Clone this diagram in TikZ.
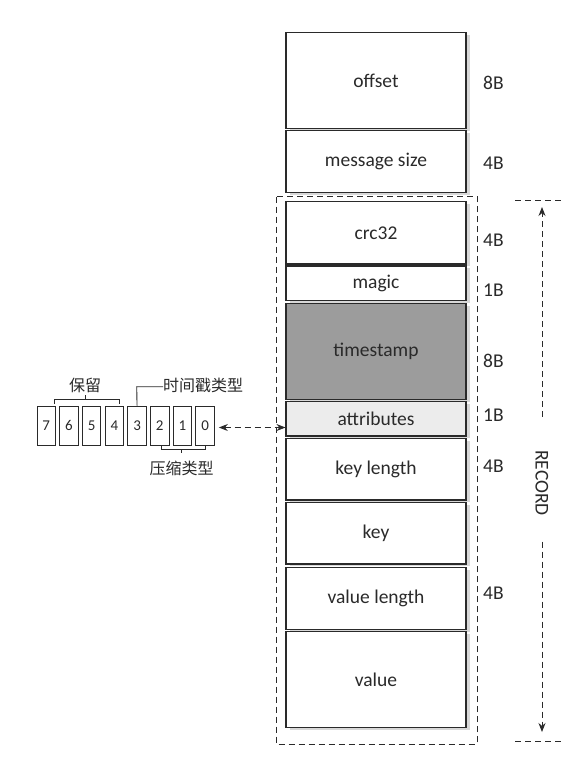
\documentclass[tikz,border=0pt]{standalone}
\usepackage{fontspec}
\setmainfont{Carlito}
\newfontfamily\cjk{Noto Sans CJK SC}
\usetikzlibrary{arrows.meta,shadows}
\definecolor{tsgray}{HTML}{9C9C9C}
\definecolor{atgray}{HTML}{ECECEC}
\definecolor{ink}{HTML}{2A2A2A}
\begin{document}
\begin{tikzpicture}[x=1pt,y=-1pt,
  every node/.style={text=ink},
  field/.style={draw=ink, line width=1.1pt, minimum width=180pt, inner sep=0pt, fill=white,
    font=\fontsize{19.5}{21}\selectfont,
    drop shadow={shadow xshift=3.5pt, shadow yshift=-2.4pt, fill=black!30}},
  sizelbl/.style={anchor=west, font=\fontsize{19.5}{21}\selectfont, inner sep=0pt},
  bitbox/.style={draw=ink, line width=0.9pt, minimum width=18.5pt, minimum height=39pt, inner sep=0pt,
    font=\fontsize{15}{17}\selectfont},
  cn/.style={font=\cjk\fontsize{16}{18}\selectfont, inner sep=0pt},
  dashline/.style={draw=ink, dash pattern=on 6pt off 4pt, line width=0.9pt},
  thinline/.style={draw=ink, line width=0.9pt},
  rtip/.tip={Stealth[length=9pt,width=7pt]}
]
\useasboundingbox (0,0) rectangle (567,769);

% record dashed frame
\draw[dashline] (276,196.7) rectangle (477,744);

% fields
\node[field, minimum height=95.6pt] (offset) at (376,80.5) {offset};
\node[field, minimum height=62pt] (msize) at (376,161.7) {message size};
\node[field, minimum height=62.3pt] (crc) at (376,232.85) {crc32};
\node[field, minimum height=34.7pt] (magic) at (376,283.35) {magic};
\node[field, minimum height=96pt, fill=tsgray] (ts) at (376,351.3) {timestamp};
\node[field, minimum height=34.3pt, fill=atgray] (attr) at (376,418.85) {attributes};
\node[field, minimum height=61.7pt] (klen) at (376,469.15) {key length};
\node[field, minimum height=61.7pt] (key) at (376,533.15) {key};
\node[field, minimum height=62pt] (vlen) at (376,598.3) {value length};
\node[field, minimum height=95.6pt] (val) at (376,679.5) {value};

% sizes
\node[sizelbl] (s1) at (483,83) {8B};
\node[sizelbl] (s2) at (483,163) {4B};
\node[sizelbl] (s3) at (483,240) {4B};
\node[sizelbl] (s4) at (483,290.7) {1B};
\node[sizelbl] (s5) at (483,361) {8B};
\node[sizelbl] (s6) at (483,415.7) {1B};
\node[sizelbl] (s7) at (483,466.7) {4B};
\node[sizelbl] (s8) at (483,593.3) {4B};

% RECORD marker
\node[rotate=-90, font=\fontsize{19.5}{21}\selectfont, inner sep=0pt] (rec) at (542,483) {RECORD};
\coordinate (rtl) at (515,200.7);
\coordinate (rtr) at (562,200.7);
\coordinate (rbl) at (515,741.7);
\coordinate (rbr) at (562,741.7);
\coordinate (ru1) at (542,416.7);
\coordinate (ru2) at (542,207);
\coordinate (rd1) at (542,541.7);
\coordinate (rd2) at (542,732);
\draw[dashline] (rtl) -- (rtr);
\draw[dashline] (rbl) -- (rbr);
\draw[dashline, -rtip] (ru1) -- (ru2);
\draw[dashline, -rtip] (rd1) -- (rd2);

% bits
\foreach \i/\n in {0/7,1/6,2/5,3/4,4/3,5/2,6/1,7/0}{
  \node[bitbox] (b\n) at (46.25+\i*22.7,425.5) {\n};
}

% 保留 bracket
\coordinate (k1) at (54.3,404);
\coordinate (k2) at (54.3,399);
\coordinate (k3) at (119.3,399);
\coordinate (k4) at (119.3,404);
\coordinate (km) at (85,399);
\coordinate (kt) at (85,395);
\draw[thinline] (k1) -- (k2) -- (k3) -- (k4);
\draw[thinline] (km) -- (kt);
\node[cn] (keep) at (85,385) {保留};

% 时间戳类型
\coordinate (tsc) at (136.7,386.7);
\node[cn, anchor=west] (tstype) at (163,385) {时间戳类型};
\draw[thinline] (b3.north) -- (tsc) -- (tstype.west |- tsc);

% 压缩类型 bracket
\coordinate (c1) at (161,445);
\coordinate (c2) at (161,449);
\coordinate (c3) at (205,449);
\coordinate (c4) at (205,445);
\coordinate (cm) at (181.7,449);
\coordinate (cb) at (181.7,453);
\draw[thinline] (c1) -- (c2) -- (c3) -- (c4);
\draw[thinline] (cm) -- (cb);
\node[cn] (comp) at (181.7,468.3) {压缩类型};

% attributes link
\draw[dashline, rtip-rtip]
  ([xshift=4pt,yshift=-2pt]b0.east) -- ([yshift=-2pt]b0.east -| attr.west);
\end{tikzpicture}
\end{document}
